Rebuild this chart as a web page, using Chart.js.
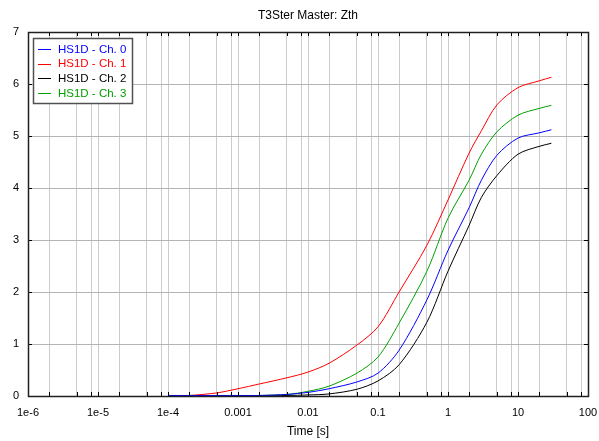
<!DOCTYPE html>
<html>
<head>
<meta charset="utf-8">
<script src="https://cdn.jsdelivr.net/npm/chart.js@4"></script>
<style>
    html, body { margin: 0; padding: 0; background: #ffffff; }
    #wrap { width: 599px; height: 441px; }
</style>
</head>
<body>
<div id="wrap"><canvas id="zth"></canvas></div>
<script>
// time axis points (s) and Zth values for each channel
const timeSec = [1e-4, 2e-4, 5e-4, 1e-3, 2e-3, 5e-3, 0.01, 0.02, 0.05, 0.1, 0.2, 0.5, 1, 2, 3, 5, 10, 20, 30];
const ch0 = [0.01, 0.01, 0.01, 0.01, 0.01, 0.03, 0.07, 0.14, 0.27, 0.44, 0.88, 1.85, 2.8, 3.62, 4.15, 4.63, 4.96, 5.06, 5.12];
const ch1 = [0, 0.01, 0.06, 0.14, 0.23, 0.35, 0.46, 0.63, 0.98, 1.33, 2.0, 2.9, 3.77, 4.67, 5.1, 5.6, 5.93, 6.06, 6.13];
const ch2 = [0, 0, 0, 0, 0, 0.01, 0.02, 0.04, 0.13, 0.29, 0.6, 1.42, 2.4, 3.28, 3.82, 4.24, 4.65, 4.8, 4.86];
const ch3 = [0, 0, 0, 0.005, 0.01, 0.03, 0.09, 0.19, 0.44, 0.75, 1.4, 2.4, 3.42, 4.15, 4.65, 5.08, 5.4, 5.53, 5.59];

const seriesNames = ['HS1D - Ch. 0', 'HS1D - Ch. 1', 'HS1D - Ch. 2', 'HS1D - Ch. 3'];
const seriesColors = ['#0000ff', '#ff0000', '#000000', '#00a000'];

const decadeTicks = [1e-6, 1e-5, 1e-4, 1e-3, 0.01, 0.1, 1, 10, 100];
const decadeLabels = ['1e-6', '1e-5', '1e-4', '0.001', '0.01', '0.1', '1', '10', '100'];
const minorSteps = [2, 5, 8];
const yTicks = [0, 1, 2, 3, 4, 5, 6, 7];

const FONT = "'Liberation Sans', Arial, sans-serif";

const gridValues = decadeTicks.flatMap((d, i) =>
    i < decadeTicks.length - 1 ? [d].concat(minorSteps.map((m) => d * m)) : [d]);

function decadeLabel(value) {
    const i = decadeTicks.findIndex((d) => Math.abs(Math.log10(d) - Math.log10(value)) < 1e-6);
    return i >= 0 ? decadeLabels[i] : '';
}

// frame plus short inward tick marks on all four sides
const frameTicks = {
    id: 'frameTicks',
    afterDatasetsDraw(chart) {
        const { ctx, chartArea: a, scales } = chart;
        ctx.save();
        ctx.strokeStyle = '#000000';
        ctx.lineWidth = 1;
        ctx.beginPath();
        gridValues.forEach((v) => {
            const x = Math.round(scales.x.getPixelForValue(v)) + 0.5;
            ctx.moveTo(x, a.top);
            ctx.lineTo(x, a.top + 4);
            ctx.moveTo(x, a.bottom);
            ctx.lineTo(x, a.bottom - 4);
        });
        yTicks.forEach((v) => {
            const y = Math.round(scales.y.getPixelForValue(v)) + 0.5;
            ctx.moveTo(a.left, y);
            ctx.lineTo(a.left + 4, y);
            ctx.moveTo(a.right, y);
            ctx.lineTo(a.right - 4, y);
        });
        ctx.stroke();
        ctx.strokeStyle = '#202020';
        ctx.lineWidth = 1.5;
        ctx.strokeRect(Math.round(a.left) + 0.5, Math.round(a.top) + 0.5,
            Math.round(a.right - a.left), Math.round(a.bottom - a.top));
        ctx.restore();
    }
};

// boxed legend in the upper-left corner of the plot
const boxLegend = {
    id: 'boxLegend',
    afterDraw(chart) {
        const { ctx, chartArea: a } = chart;
        const x0 = Math.round(a.left) + 5;
        const y0 = Math.round(a.top) + 6;
        const rowH = 14.7;
        const w = 99;
        const h = 65;
        ctx.save();
        ctx.fillStyle = '#ffffff';
        ctx.fillRect(x0, y0, w, h);
        ctx.strokeStyle = '#505050';
        ctx.lineWidth = 1.5;
        ctx.strokeRect(x0 + 0.5, y0 + 0.5, w, h);
        ctx.font = '11.5px ' + FONT;
        ctx.textBaseline = 'middle';
        ctx.lineWidth = 1;
        chart.data.datasets.forEach((ds, i) => {
            const y = y0 + 11 + i * rowH;
            ctx.strokeStyle = ds.borderColor;
            ctx.beginPath();
            ctx.moveTo(x0 + 5, Math.round(y) + 0.5);
            ctx.lineTo(x0 + 18, Math.round(y) + 0.5);
            ctx.stroke();
            ctx.fillStyle = ds.borderColor;
            ctx.fillText(ds.label, x0 + 25, y + 0.5);
        });
        ctx.restore();
    }
};

const seriesValues = [ch0, ch1, ch2, ch3];

new Chart(document.getElementById('zth'), {
    type: 'line',
    data: {
        labels: timeSec,
        datasets: seriesValues.map((vals, i) => ({
            label: seriesNames[i],
            data: vals.map((v, k) => ({ x: timeSec[k], y: v })),
            borderColor: seriesColors[i],
            backgroundColor: seriesColors[i],
            borderWidth: 1,
            pointRadius: 0,
            tension: 0.3,
            fill: false
        }))
    },
    options: {
        responsive: true,
        maintainAspectRatio: false,
        animation: false,
        layout: {
            padding: { left: 0, right: 11, top: 0, bottom: 0 }
        },
        plugins: {
            legend: { display: false },
            tooltip: { enabled: false },
            title: {
                display: true,
                text: 'T3Ster Master: Zth',
                fullSize: false,
                color: '#000000',
                font: { family: FONT, size: 12, weight: 'normal' },
                padding: { top: 8, bottom: 9.6 }
            }
        },
        scales: {
            x: {
                type: 'logarithmic',
                min: 1e-6,
                max: 100,
                afterBuildTicks: (scale) => {
                    scale.ticks = gridValues.map((v) => ({ value: v }));
                },
                afterFit: (scale) => {
                    scale.height = 45;
                    scale.paddingLeft = 0;
                    scale.paddingRight = 0;
                },
                ticks: {
                    autoSkip: false,
                    maxRotation: 0,
                    padding: 10,
                    color: '#000000',
                    font: { family: FONT, size: 11 },
                    callback: (value) => decadeLabel(value)
                },
                grid: {
                    color: '#cccccc',
                    lineWidth: 1,
                    drawTicks: false
                },
                border: { display: false },
                title: {
                    display: true,
                    text: 'Time [s]',
                    color: '#000000',
                    font: { family: FONT, size: 12 },
                    padding: { top: 0, bottom: 2 }
                }
            },
            y: {
                min: 0,
                max: 7,
                afterBuildTicks: (scale) => {
                    scale.ticks = yTicks.map((v) => ({ value: v }));
                },
                afterFit: (scale) => {
                    scale.width = 28;
                },
                ticks: {
                    padding: 9,
                    color: '#000000',
                    font: { family: FONT, size: 11 }
                },
                grid: {
                    color: '#b4b4b4',
                    lineWidth: 1,
                    drawTicks: false
                },
                border: { display: false }
            }
        }
    },
    plugins: [frameTicks, boxLegend]
});
</script>
</body>
</html>
